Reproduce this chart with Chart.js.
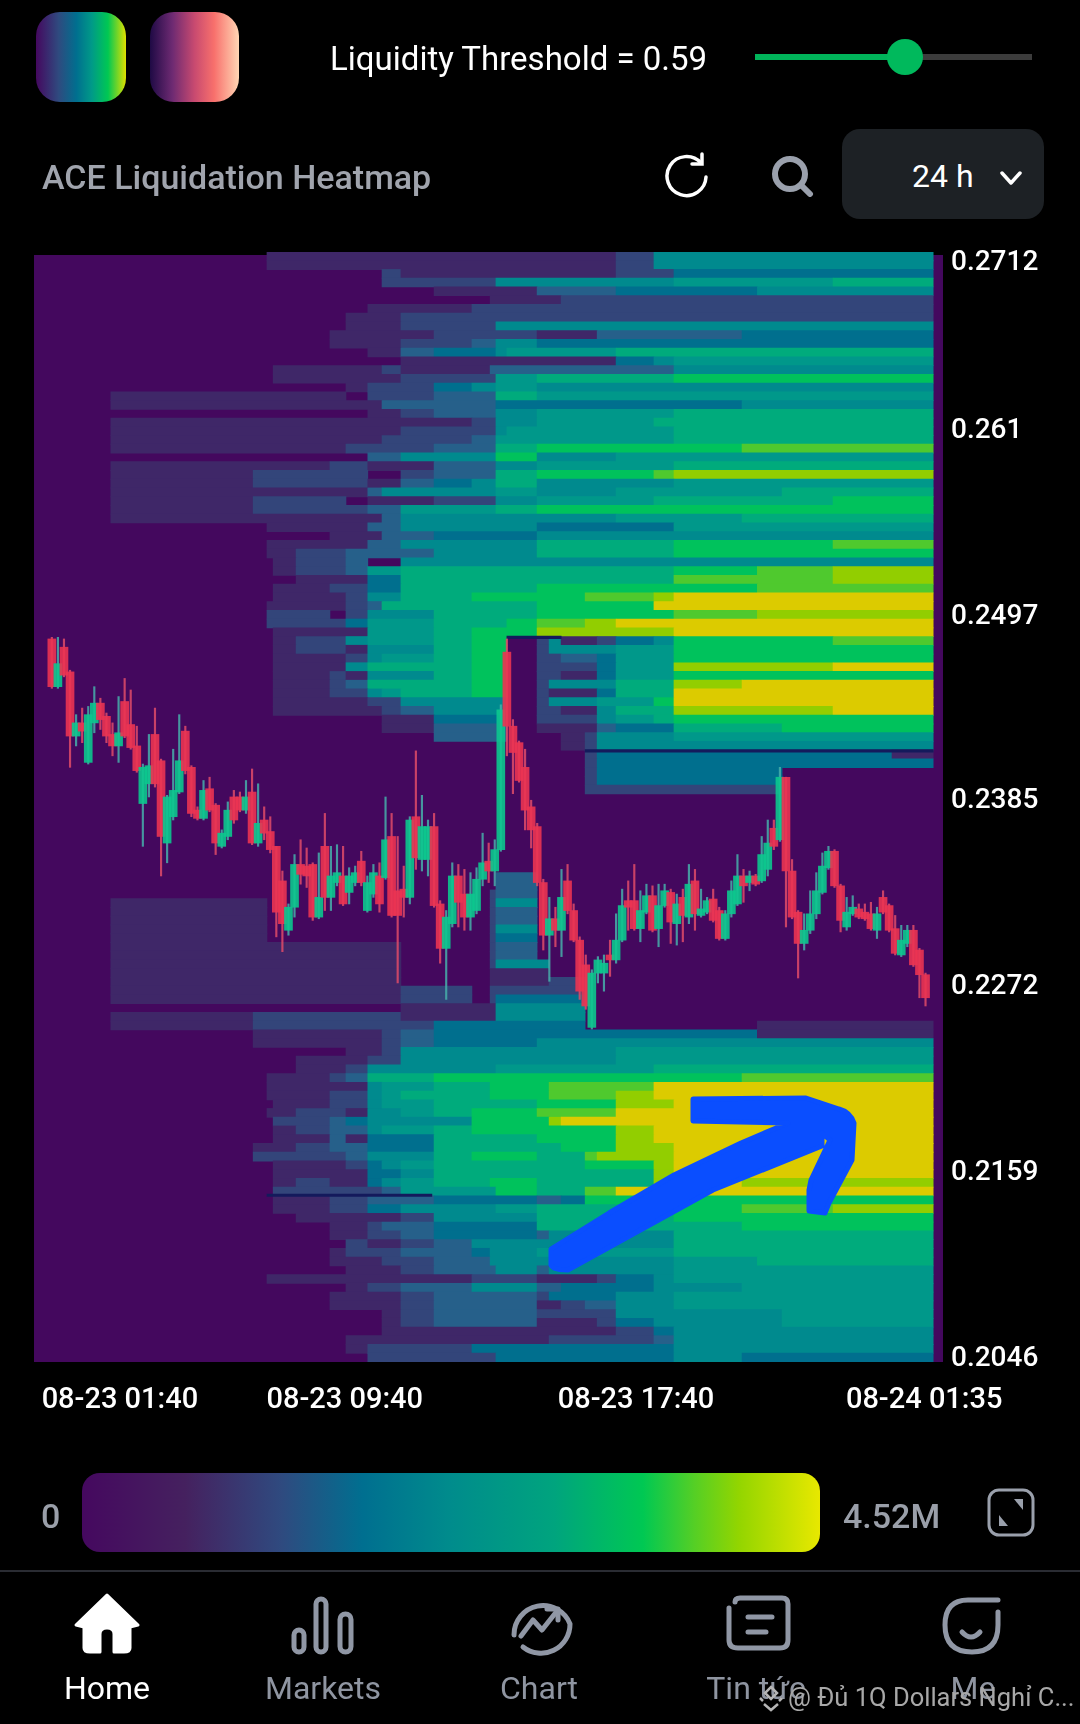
<!DOCTYPE html>
<html>
<head>
<meta charset="utf-8">
<title>ACE Liquidation Heatmap</title>
<script src="https://cdn.jsdelivr.net/npm/chart.js@4/dist/chart.umd.min.js"></script>
<style>
  html, body { margin: 0; padding: 0; background: #000; }
  #page { position: relative; width: 1080px; height: 1724px; overflow: hidden; background: #000; font-family: Roboto, sans-serif; color: #fff; }
  #page > * { position: absolute; }
  canvas { left: 0; top: 0; }
  .swatch { top: 12px; height: 90px; border-radius: 24px; }
  .navlabel { top: 1669px; width: 200px; text-align: center; font-size: 32px; color: #8f95a1; }
  .legendtxt { top: 1496px; font-size: 34px; font-weight: 500; color: #9a9fa9; }
</style>
</head>
<body>
<div id="page">
  <canvas id="chart" width="1080" height="1724"></canvas>

  <div class="swatch" style="left:36px;width:90px;background:linear-gradient(90deg,#45085f,#2f4a7f 25%,#006f8f 45%,#009a88 62%,#00c853 80%,#e0e000)"></div>
  <div class="swatch" style="left:150px;width:89px;background:linear-gradient(90deg,#1f0a45,#6d2a72 25%,#c84a70 50%,#f8706c 72%,#ffd6b4)"></div>
  <div style="left:330px;top:39px;font-size:33px;white-space:nowrap">Liquidity Threshold = 0.59</div>
  <div style="left:755px;top:54px;width:150px;height:6px;background:#00b45a"></div>
  <div style="left:905px;top:54px;width:127px;height:6px;background:#3c3c3c"></div>
  <div style="left:887px;top:39px;width:36px;height:36px;border-radius:50%;background:#00b95c"></div>

  <div style="left:42px;top:157px;font-size:34px;font-weight:500;color:#a0a4ad;white-space:nowrap">ACE Liquidation Heatmap</div>
  <svg style="left:664px;top:152px" width="46" height="46" viewBox="0 0 46 46" fill="none" stroke="#fff" stroke-width="3.5" stroke-linecap="round">
    <path d="M37 11A19.5 19.5 0 1 0 42 25"/><path d="M38 2v10H28"/>
  </svg>
  <svg style="left:770px;top:155px" width="44" height="42" viewBox="0 0 44 42" fill="none" stroke="#9aa0ac" stroke-width="6" stroke-linecap="round">
    <circle cx="20" cy="19" r="15"/><path d="M31 30l9 9"/>
  </svg>
  <div style="left:842px;top:129px;width:202px;height:90px;border-radius:18px;background:#1d2125"></div>
  <div style="left:912px;top:157px;font-size:32px;white-space:nowrap">24 h</div>
  <svg style="left:999px;top:170px" width="24" height="16" viewBox="0 0 24 16" fill="none" stroke="#fff" stroke-width="3.5" stroke-linecap="round" stroke-linejoin="round"><path d="M3 3l9 10 9-10"/></svg>

  <!-- hand drawn arrow on the screenshot -->
  <svg id="arrow" style="left:0;top:0" width="1080" height="1724">
    <path fill="#0a4eff" stroke="#0a4eff" stroke-width="5" stroke-linejoin="round"
      d="M551 1249L551 1265Q553 1270 568 1270L713 1190L822 1146L822 1133L830 1140L811 1180L809 1190L809 1211L825 1213L829 1203L852 1160L854 1123Q850 1112 839 1109L806 1098L693 1099L693 1121L788 1123L741 1143L674 1175L609 1213Z"/>
  </svg>

  <div class="legendtxt" style="left:41px">0</div>
  <div style="left:82px;top:1473px;width:738px;height:79px;border-radius:18px;background:linear-gradient(90deg,#45085f 0%,#45215f 14%,#2f4a7f 27%,#006f90 38%,#008c8c 50%,#00a47e 64%,#00c853 76%,#55cf25 83%,#93d500 89%,#e8e800 100%)"></div>
  <div class="legendtxt" style="left:843px">4.52M</div>
  <svg style="left:987px;top:1488px" width="48" height="49" viewBox="0 0 48 49" fill="none" stroke="#9aa0ac" stroke-width="3">
    <rect x="2" y="2" width="44" height="45" rx="10"/>
    <path d="M36 11v11l-9-11z" fill="#9aa0ac" stroke="none"/><path d="M12 38V27l9 11z" fill="#9aa0ac" stroke="none"/>
  </svg>
  <div style="left:0;top:1570px;width:1080px;height:2px;background:#2a2c33"></div>

  <svg style="left:0;top:0" width="1080" height="1724" fill="none" stroke="#9097a5" stroke-width="5" stroke-linecap="round" stroke-linejoin="round">
    <path fill="#fff" stroke="#fff" stroke-width="3" d="M107 1595L76 1625L84 1627V1648Q84 1652 90 1652H100V1634Q100 1628 107 1628Q114 1628 114 1634V1652H124Q130 1652 130 1648V1627L138 1625Z"/>
    <rect x="294" y="1630" width="10" height="22" rx="5"/><rect x="316" y="1599" width="10" height="53" rx="5"/><rect x="340" y="1614" width="11" height="38" rx="5.5"/>
    <path d="M514 1635A29 29 0 0 1 570 1624A29 29 0 0 1 523 1647"/><path d="M521 1636L533 1620L542 1630L557 1611"/><path d="M547 1609h11v11"/>
    <path d="M735 1602Q735 1598 740 1598H782Q788 1598 788 1604V1640Q788 1648 780 1648H738Q729 1648 729 1640V1608"/><path d="M748 1617h24M748 1632h18"/>
    <path d="M998 1600H968Q945 1600 945 1625Q945 1652 972 1652Q998 1652 998 1625V1612"/><path d="M962 1632Q971 1642 980 1632"/>
  </svg>
  <div class="navlabel" style="left:7px;color:#fff">Home</div>
  <div class="navlabel" style="left:223px">Markets</div>
  <div class="navlabel" style="left:439px">Chart</div>
  <div class="navlabel" style="left:656px">Tin tức</div>
  <div class="navlabel" style="left:873px">Me</div>
  <svg style="left:757px;top:1685px" width="28" height="27" viewBox="0 0 28 27" fill="none" stroke="#b5b5b5" stroke-width="2.5"><path d="M14 2l6 6-6 6-6-6zM3 13l3 3M25 13l-3 3M7 19l7 6 7-6"/></svg>
  <div style="left:788px;top:1682px;font-size:25.5px;color:#a8a8a8;white-space:nowrap">@ Đủ 1Q Dollars Nghỉ C...</div>
</div>

<script>
// axis values
const yTicks = [0.2712, 0.261, 0.2497, 0.2385, 0.2272, 0.2159, 0.2046];
const xTickHours = [3.49, 9.667, 17.667, 25.583]; // hours from 08-23 00:00, first label is kept inside the plot
const xTickLabels = ['08-23 01:40', '08-23 09:40', '08-23 17:40', '08-24 01:35'];
const priceMin = 0.20417, priceMax = 0.27161;
const hourMin = 1.13, hourMax = 26.1;

// candles, 10 minutes apart
const candleStart = 1.62;
const candleOpen = [
  .2481,.2452,.2476,.2461,.2422,.2430,.2406,.2430,.2442,.2434,.2423,.2416,.2443,.2429,.2416,
  .2381,.2393,.2423,.2407,.2357,.2373,.2388,.2425,.2403,.2377,.2372,.2390,.2380,.2355,.2361,
  .2385,.2385,.2377,.2388,.2357,.2371,.2364,.2355,.2334,.2304,.2318,.2344,.2343,.2344,.2312,
  .2355,.2324,.2333,.2337,.2327,.2333,.2346,.2316,.2326,.2337,.2336,.2361,.2328,.2329,.2324,
  .2373,.2347,.2347,.2367,.2320,.2293,.2308,.2337,.2326,.2312,.2316,.2335,.2346,.2340,.2353,
  .2473,.2428,.2418,.2403,.2379,.2367,.2333,.2301,.2311,.2304,.2334,.2316,.2298,.2283,.2245,
  .2278,.2278,.2289,.2286,.2298,.2322,.2322,.2305,.2315,.2325,.2305,.2319,.2327,.2308,.2324,
  .2312,.2334,.2313,.2315,.2323,.2316,.2299,.2314,.2320,.2337,.2333,.2337,.2334,.2341,.2366,
  .2359,.2397,.2340,.2315,.2296,.2304,.2314,.2327,.2342,.2352,.2331,.2306,.2314,.2317,.2315,
  .2314,.2304,.2324,.2319,.2305,.2289,.2296,.2304,.2292,.2277
];
const candleClose = [
  .2452,.2466,.2459,.2422,.2430,.2425,.2435,.2442,.2432,.2422,.2416,.2424,.2422,.2415,.2401,
  .2403,.2404,.2393,.2361,.2385,.2389,.2407,.2401,.2375,.2372,.2389,.2377,.2357,.2363,.2377,
  .2371,.2377,.2385,.2357,.2369,.2363,.2353,.2315,.2308,.2318,.2344,.2338,.2337,.2312,.2324,
  .2324,.2337,.2339,.2320,.2337,.2339,.2333,.2333,.2339,.2320,.2359,.2313,.2313,.2324,.2371,
  .2348,.2367,.2367,.2319,.2293,.2312,.2337,.2321,.2312,.2326,.2335,.2345,.2340,.2353,.2438,
  .2428,.2412,.2395,.2377,.2365,.2333,.2301,.2311,.2304,.2324,.2316,.2298,.2267,.2258,.2278,
  .2286,.2284,.2286,.2298,.2319,.2318,.2305,.2316,.2325,.2304,.2319,.2328,.2309,.2320,.2313,
  .2332,.2314,.2317,.2322,.2310,.2299,.2314,.2328,.2337,.2331,.2337,.2332,.2350,.2357,.2355,
  .2397,.2340,.2312,.2296,.2304,.2314,.2328,.2343,.2352,.2331,.2310,.2315,.2318,.2312,.2311,
  .2305,.2314,.2315,.2304,.2290,.2298,.2304,.2283,.2277,.2263
];
const candleHigh = [
  .2482,.2482,.2481,.2462,.2435,.2439,.2440,.2452,.2445,.2436,.2430,.2446,.2457,.2450,.2428,
  .2405,.2423,.2439,.2408,.2386,.2414,.2435,.2428,.2404,.2379,.2395,.2397,.2381,.2365,.2382,
  .2389,.2388,.2395,.2402,.2393,.2379,.2373,.2355,.2340,.2320,.2350,.2359,.2354,.2345,.2351,
  .2375,.2355,.2356,.2355,.2342,.2343,.2352,.2337,.2344,.2345,.2385,.2375,.2361,.2343,.2373,
  .2413,.2386,.2371,.2375,.2322,.2316,.2345,.2344,.2341,.2339,.2342,.2363,.2357,.2359,.2441,
  .2481,.2432,.2419,.2414,.2383,.2369,.2335,.2324,.2318,.2341,.2344,.2320,.2300,.2289,.2280,
  .2288,.2289,.2298,.2314,.2329,.2334,.2344,.2328,.2332,.2331,.2332,.2332,.2329,.2326,.2329,
  .2344,.2341,.2329,.2324,.2329,.2318,.2316,.2334,.2350,.2341,.2340,.2338,.2361,.2371,.2371,
  .2403,.2397,.2347,.2316,.2314,.2328,.2339,.2351,.2355,.2353,.2332,.2324,.2325,.2320,.2320,
  .2321,.2318,.2328,.2320,.2313,.2307,.2307,.2307,.2293,.2278
];
const candleLow = [
  .2451,.2451,.2458,.2403,.2416,.2418,.2405,.2424,.2426,.2418,.2410,.2406,.2421,.2414,.2400,
  .2355,.2385,.2391,.2337,.2345,.2371,.2387,.2399,.2373,.2371,.2371,.2376,.2350,.2354,.2359,
  .2369,.2376,.2375,.2356,.2355,.2359,.2351,.2300,.2291,.2301,.2312,.2332,.2330,.2310,.2311,
  .2316,.2316,.2331,.2319,.2320,.2331,.2331,.2315,.2324,.2315,.2335,.2312,.2272,.2312,.2320,
  .2341,.2340,.2337,.2318,.2284,.2262,.2306,.2306,.2304,.2304,.2314,.2331,.2333,.2331,.2352,
  .2410,.2387,.2394,.2365,.2354,.2331,.2292,.2273,.2294,.2288,.2314,.2297,.2262,.2256,.2244,
  .2272,.2267,.2276,.2284,.2297,.2304,.2304,.2297,.2314,.2303,.2294,.2318,.2296,.2295,.2297,
  .2308,.2304,.2312,.2314,.2309,.2298,.2298,.2312,.2319,.2321,.2328,.2331,.2333,.2337,.2353,
  .2358,.2306,.2311,.2275,.2292,.2302,.2311,.2326,.2341,.2330,.2303,.2304,.2313,.2311,.2310,
  .2304,.2299,.2314,.2303,.2289,.2288,.2294,.2282,.2263,.2258
];

// heat columns, edges in hours
const heatEdges = [1.13,3.24,7.15,7.53,7.70,8.33,9.26,9.70,10.30,10.69,11.21,12.12,13.16,13.66,13.82,14.12,14.95,15.28,15.61,16.27,16.60,17.12,18.16,18.71,20.58,21.00,21.68,23.08,24.70,25.83];
const levelColors = ['#44085e','#3f2768','#33457a','#26608a','#006f8e','#008a8e','#00988a','#00ab7c','#00c25c','#4fc92e','#92ce00','#dccb00'];
// one string per price row from the top, one level character (0-9, a, b) per column
const heatRows = [
  '00'+'01111111111111'+'1111125555555',
  '00'+'01111111111111'+'1111125555555',
  '00'+'00000002111111'+'1111122444444',
  '00'+'00000002222255'+'5555555666677',
  '00'+'00000000011111'+'3333344445555',
  '00'+'00000000000111'+'1122222222222',
  '00'+'00000011112222'+'2222222222222',
  '00'+'00000111222222'+'2222222222222',
  '00'+'00000111222255'+'5555555555555',
  '00'+'00001111122222'+'1111333344444',
  '00'+'00001111223355'+'4444444444444',
  '00'+'00000011344456'+'6666677777777',
  '00'+'00000000111111'+'1111145666666',
  '00'+'00111112111333'+'3333333555555',
  '00'+'00111111222266'+'7777777888888',
  '00'+'00000122245566'+'5555555555555',
  '01'+'11111022233377'+'6666666666666',
  '01'+'11111113333344'+'4444444455555',
  '00'+'00000011233355'+'6666666777777',
  '01'+'11111111112255'+'6666667777777',
  '01'+'11111111222256'+'6666666777777',
  '01'+'11111112223366'+'6666666777777',
  '01'+'11111222233377'+'8888888899999',
  '00'+'00000033555588'+'5555566666666',
  '01'+'11112211133355'+'6666666777777',
  '01'+'22222200233377'+'8888889aaaaaa',
  '01'+'22222211345577'+'5555555666666',
  '01'+'11111135555566'+'5555566666777',
  '01'+'22222011122255'+'6666667777788',
  '01'+'22222233666677'+'8888888888888',
  '01'+'11111113555555'+'5555566677777',
  '00'+'01111133555555'+'4444444666666',
  '00'+'00001113344444'+'5555555555555',
  '00'+'01111133555555'+'7777777888899',
  '00'+'01122333355555'+'7777777888888',
  '00'+'00122300555555'+'5555555555555',
  '00'+'00122366777777'+'77777778899aa',
  '00'+'00011144777777'+'77777779999aa',
  '00'+'00112244777777'+'8888888889999',
  '00'+'00111255778888'+'888999abbbbbb',
  '00'+'01111237777777'+'888888bbbbbbb',
  '00'+'02220255577777'+'888888899aaaa',
  '00'+'02222466677778'+'999aabbbbbbbb',
  '00'+'00111166678888'+'aaaaaaabbbbbb',
  '00'+'00122566678880'+'2511245888899',
  '00'+'00122155578880'+'2555566888888',
  '00'+'00111256678880'+'2233466888888',
  '00'+'00111577778880'+'2222466aaaabb',
  '00'+'00112155578880'+'2211466888888',
  '00'+'00112377778880'+'2555577abbbbb',
  '00'+'00112256778880'+'2111477bbbbbb',
  '00'+'00111122555550'+'2555668bbbbbb',
  '00'+'00111112355550'+'2211577aaaabb',
  '00'+'00000001144440'+'2222567888888',
  '00'+'00000001133330'+'1111344777888',
  '00'+'00000000033330'+'0012555666666',
  '00'+'00000000000000'+'0012555555555',
  '00'+'00000000000000'+'0002444444441',
  '00'+'00000000000000'+'0002444444444',
  '00'+'00000000000000'+'0002444444000',
  '00'+'00000000000000'+'0002444444000',
  '00'+'00000000000000'+'0002222222000',
  '','','','','','','','','',
  '00'+'00000000000033'+'0000000000000',
  '00'+'00000000000033'+'0000000000000',
  '00'+'00000000000233'+'0000000000000',
  '01'+'10000000000255'+'0000000000000',
  '01'+'10000000000233'+'0000000000000',
  '01'+'10000000000233'+'0000000000000',
  '01'+'10000000000255'+'0000000000000',
  '01'+'10000000000244'+'0000000000000',
  '01'+'11111111000233'+'0000000000000',
  '01'+'11111111000233'+'0000000000000',
  '01'+'11111111000255'+'5000000000000',
  '01'+'11111111000111'+'1000000000000',
  '01'+'11111111000111'+'1220000000000',
  '01'+'11111111220222'+'2220000000000',
  '01'+'11111111220244'+'4440000000000',
  '00'+'00000000111155'+'5550000000000',
  '01'+'22222222111155'+'5550000000000',
  '01'+'22222222244444'+'4440000001111',
  '00'+'11111112344444'+'4444444441111',
  '00'+'11111112344444'+'5555555555555',
  '00'+'00000112555555'+'5555566666666',
  '00'+'00011122555555'+'5555566666666',
  '00'+'00011255555566'+'6666667777777',
  '00'+'01112377788888'+'8888888899999',
  '00'+'01111156677888'+'899999bbbbbbb',
  '00'+'01112256777888'+'89999abbbbbbb',
  '00'+'00112256677777'+'88888aabbbbbb',
  '00'+'01122155678888'+'99999bbbbbbbb',
  '00'+'00223455558888'+'8abbbbbbbbbbb',
  '00'+'00123356678888'+'88888abbbbbbb',
  '00'+'00113144477777'+'88888abbbbbbb',
  '00'+'11123344477777'+'77888aabbbbbb',
  '00'+'22222355578888'+'7779aaabbbbbb',
  '00'+'00111245677777'+'777888abbbbbb',
  '00'+'00111144577777'+'777777abbbbbb',
  '00'+'00121145677888'+'777777abaaaaa',
  '00'+'00222223666688'+'77799bbbbbbbb',
  '00'+'00112233344444'+'3348888888888',
  '00'+'00112244555566'+'77777778999aa',
  '00'+'00011111255555'+'7777777888888',
  '00'+'00001123344444'+'7777777788888',
  '00'+'00001122344444'+'3555555777777',
  '00'+'00000211235555'+'5555555777777',
  '00'+'00001222334555'+'6666666777777',
  '00'+'00001112233555'+'5555555667777',
  '00'+'00000111233355'+'3555555666666',
  '00'+'01111111112222'+'1111245666666',
  '00'+'00000122335555'+'3344445566666',
  '00'+'00001111233333'+'2444455666666',
  '00'+'00001111233333'+'1123355666666',
  '00'+'00000001233333'+'2222255555666',
  '00'+'00000001233333'+'1111245555666',
  '00'+'00000001111111'+'1111124555555',
  '00'+'00000111111111'+'1222223555555',
  '00'+'00000122224444'+'4444444555555',
  '00'+'00000022222244'+'4444444544444'
];

// thin dark seams between heat blocks
const seamPrices = [0.2482, 0.2413, 0.2143];
const seamStart = [14.12, 16.27, 7.53];
const seamEnd = [15.61, 25.83, 12.06];

// turn the rows into floating bars, neighbouring cells of one level become one bar
const rowStep = (priceMax - priceMin) / heatRows.length;
const heatCells = [];
heatRows.forEach((row, r) => {
  const price = priceMax - (r + 0.5) * rowStep;
  let c = 0;
  while (c < row.length) {
    let end = c;
    while (end + 1 < row.length && row[end + 1] === row[c]) end++;
    const level = parseInt(row[c], 16);
    if (level > 0) heatCells.push({ y: price, x: [heatEdges[c], heatEdges[end + 1]], level });
    c = end + 1;
  }
});

const candleHours = candleOpen.map((_, i) => candleStart + i / 6);
const upColor = 'rgba(12,200,142,0.9)', downColor = 'rgba(235,52,82,0.9)';
const upWick = 'rgba(70,175,170,0.85)', downWick = 'rgba(225,75,105,0.85)';
const isUp = i => candleClose[i] >= candleOpen[i];

const backdrop = {
  id: 'backdrop',
  beforeDatasetsDraw(chart) {
    const { ctx, chartArea: a } = chart;
    ctx.save();
    ctx.fillStyle = levelColors[0];
    ctx.fillRect(a.left, a.top + 3, a.right - a.left, a.bottom - a.top - 3);
    ctx.restore();
  }
};

Chart.defaults.font.family = 'Roboto';

new Chart(document.getElementById('chart'), {
  type: 'bar',
  plugins: [backdrop],
  data: {
    datasets: [
      {
        label: 'body',
        order: 1,
        grouped: false,
        barThickness: 8,
        data: candleHours.map((h, i) => ({ x: h, y: [candleOpen[i], candleClose[i]] })),
        backgroundColor: ctx => isUp(ctx.dataIndex) ? upColor : downColor,
        borderWidth: 0
      },
      {
        label: 'wick',
        order: 2,
        grouped: false,
        barThickness: 1.5,
        data: candleHours.map((h, i) => ({ x: h, y: [candleLow[i], candleHigh[i]] })),
        backgroundColor: ctx => isUp(ctx.dataIndex) ? upWick : downWick,
        borderWidth: 0
      },
      {
        label: 'seam',
        order: 3,
        indexAxis: 'y',
        grouped: false,
        barThickness: 2.5,
        data: seamPrices.map((p, i) => ({ y: p, x: [seamStart[i], seamEnd[i]] })),
        backgroundColor: '#141a5c',
        borderWidth: 0
      },
      {
        label: 'liquidity',
        order: 4,
        indexAxis: 'y',
        grouped: false,
        barThickness: 8.9,
        data: heatCells,
        backgroundColor: ctx => levelColors[ctx.raw.level],
        borderWidth: 0
      }
    ]
  },
  options: {
    responsive: false,
    animation: false,
    devicePixelRatio: 1,
    layout: { padding: { left: 34, top: 252, right: 0, bottom: 0 } },
    plugins: { legend: { display: false }, tooltip: { enabled: false } },
    scales: {
      x: {
        type: 'linear', min: hourMin, max: hourMax, offset: false,
        grid: { display: false }, border: { display: false },
        afterBuildTicks: s => { s.ticks = xTickHours.map(v => ({ value: v })); },
        afterFit: s => { s.height = 362; },
        ticks: {
          autoSkip: false, maxRotation: 0, minRotation: 0, padding: 13,
          color: '#fff', font: { size: 29, weight: '500' },
          callback: (v, i) => xTickLabels[i]
        }
      },
      y: {
        type: 'linear', position: 'right', min: priceMin, max: priceMax, offset: false, beginAtZero: false,
        grid: { display: false }, border: { display: false },
        afterBuildTicks: s => { s.ticks = yTicks.map(v => ({ value: v })); },
        afterFit: s => { s.width = 137; },
        ticks: {
          autoSkip: false, padding: 0, labelOffset: 4,
          color: '#fff', font: { size: 28, weight: '500' },
          callback: v => String(v)
        }
      }
    }
  }
});
</script>
</body>
</html>
